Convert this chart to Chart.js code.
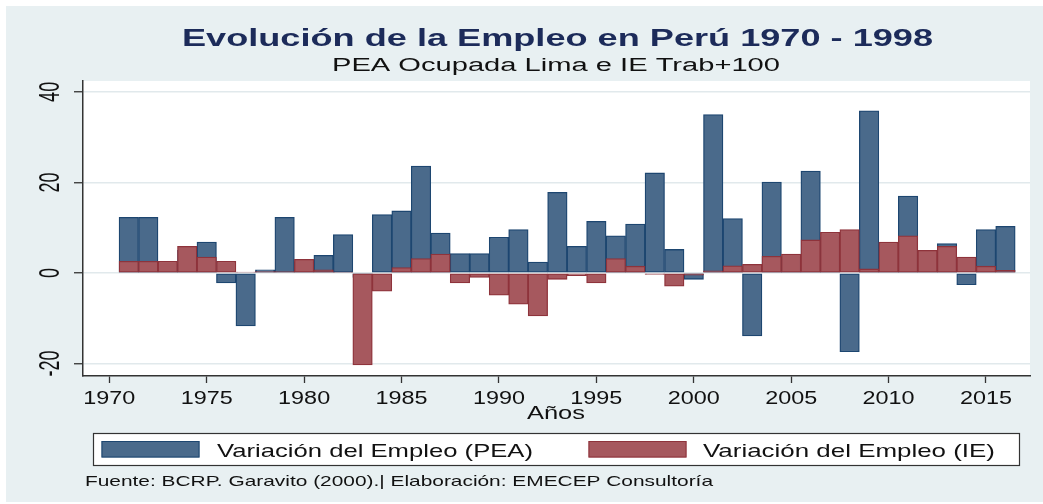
<!DOCTYPE html>
<html>
<head>
<meta charset="utf-8">
<script src="https://cdn.jsdelivr.net/npm/chart.js@4/dist/chart.umd.min.js"></script>
<style>
  html, body { margin: 0; padding: 0; background: #ffffff; }
  #wrap { width: 1043px; height: 504px; position: relative; }
  canvas { display: block; }
</style>
</head>
<body>
<div id="wrap"><canvas id="c" width="1043" height="504"></canvas></div>
<script>
// ---------- DATA ----------
const years = [1971,1972,1973,1974,1975,1976,1977,1978,1979,1980,
               1981,1982,1983,1984,1985,1986,1987,1988,1989,1990,
               1991,1992,1993,1994,1995,1996,1997,1998,1999,2000,
               2001,2002,2003,2004,2005,2006,2007,2008,2009,2010,
               2011,2012,2013,2014,2015,2016];
const peaValues = [12.3,12.3,2.0,5.0,6.8,-2.2,-11.7,0.7,12.3,2.5,
                   3.9,8.5,-1.0,12.9,13.7,23.6,8.8,4.3,4.3,7.9,
                   9.6,2.4,17.8,5.9,11.4,8.2,10.8,22.1,5.2,-1.4,
                   35.0,12.0,-13.9,20.1,3.5,22.5,8.0,-17.4,35.8,6.0,
                   17.0,4.5,6.5,-2.6,9.6,10.3];
const ieValues = [2.6,2.6,2.6,5.9,3.5,2.6,0.2,0.3,0.3,3.0,
                  0.7,0.2,-20.3,-4.0,1.2,3.2,4.2,-2.2,-1.0,-4.9,
                  -6.9,-9.5,-1.4,-0.6,-2.2,3.2,1.5,-0.3,-2.9,-0.5,
                  0.5,1.6,1.9,3.7,4.2,7.3,9.0,9.6,0.9,6.8,
                  8.2,5.0,5.9,3.5,1.5,0.6];
const xTickYears = [1970,1975,1980,1985,1990,1995,2000,2005,2010,2015];
const yTickValues = [-20,0,20,40];
const seriesLabels = ["Variación del Empleo (PEA)", "Variación del Empleo (IE)"];
const titleText = "Evolución de la Empleo en Perú 1970 - 1998";
const subtitleText = "PEA Ocupada Lima e IE Trab+100";
const xAxisTitle = "Años";
const footnoteText = "Fuente: BCRP. Garavito (2000).| Elaboración: EMECEP Consultoría";

// ---------- STYLE ----------
const BLUE_FILL = '#4a6a8b', BLUE_LINE = '#1d4670';
const RED_FILL = '#a6585e', RED_LINE = '#8e333b';
const BG = '#e8f0f2';
const FONT = '"Liberation Sans", Arial, Helvetica, sans-serif';

function drawText(ctx, s, x, y, o) {
  ctx.save();
  ctx.font = o.font;
  ctx.fillStyle = o.color || '#111';
  ctx.textBaseline = 'alphabetic';
  ctx.textAlign = o.align || 'center';
  const w = ctx.measureText(s).width;
  const sx = o.width ? o.width / w : (o.sx || 1);
  ctx.translate(x, y);
  ctx.scale(sx, 1);
  ctx.fillText(s, 0, 0);
  ctx.restore();
}

const decor = {
  id: 'decor',
  beforeDraw(chart) {
    const ctx = chart.ctx, a = chart.chartArea;
    ctx.save();
    ctx.fillStyle = '#ffffff';
    ctx.fillRect(0, 0, chart.width, chart.height);
    ctx.fillStyle = BG;
    ctx.fillRect(6, 6, chart.width - 6, chart.height - 8);
    ctx.fillStyle = '#ffffff';
    ctx.fillRect(a.left, a.top, a.right - a.left, a.bottom - a.top);
    ctx.restore();
  },
  afterDraw(chart) {
    const ctx = chart.ctx;
    const xs = chart.scales.x, ys = chart.scales.y;
    // titles
    drawText(ctx, titleText, 557.5, 46, {font: 'bold 24px ' + FONT, color: '#1c2b5a', width: 751});
    drawText(ctx, subtitleText, 556, 71, {font: '18px ' + FONT, color: '#111', width: 448});
    // x tick labels
    xs.ticks.forEach(t => {
      drawText(ctx, String(t.value), xs.getPixelForValue(t.value), 403.5, {font: '18px ' + FONT, color: '#111', sx: 1.3});
    });
    drawText(ctx, xAxisTitle, 556, 419, {font: '18px ' + FONT, color: '#111', width: 58});
    // y tick labels (vertical)
    ys.ticks.forEach(t => {
      const py = ys.getPixelForValue(t.value);
      ctx.save();
      ctx.font = '18px ' + FONT;
      ctx.fillStyle = '#111';
      ctx.textAlign = 'center';
      ctx.textBaseline = 'middle';
      ctx.translate(51, py);
      ctx.rotate(-Math.PI / 2);
      ctx.scale(1, 1.6);
      ctx.fillText(String(t.value), 0, 0);
      ctx.restore();
    });
    // legend
    ctx.save();
    ctx.fillStyle = '#ffffff';
    ctx.fillRect(93, 433, 926, 32);
    ctx.strokeStyle = '#333';
    ctx.lineWidth = 1.2;
    ctx.strokeRect(93.5, 433.5, 926, 32);
    const sw = [[101.5, BLUE_FILL, BLUE_LINE], [588.5, RED_FILL, RED_LINE]];
    sw.forEach(([x, f, l]) => {
      ctx.fillStyle = f; ctx.fillRect(x, 441, 98, 16.5);
      ctx.strokeStyle = l; ctx.lineWidth = 1; ctx.strokeRect(x + 0.5, 441.5, 97, 15.5);
    });
    ctx.restore();
    drawText(ctx, seriesLabels[0], 217, 456.5, {font: '19px ' + FONT, color: '#111', width: 316, align: 'left'});
    drawText(ctx, seriesLabels[1], 703, 456.5, {font: '19px ' + FONT, color: '#111', width: 292, align: 'left'});
    // footnote
    drawText(ctx, footnoteText, 85, 486, {font: '15px ' + FONT, color: '#111', width: 628, align: 'left'});
  }
};

const peaData = years.map((y, i) => ({x: y, y: peaValues[i]}));
const ieData = years.map((y, i) => ({x: y, y: ieValues[i]}));

new Chart(document.getElementById('c'), {
  type: 'bar',
  data: {
    datasets: [
      { label: seriesLabels[0], data: peaData, backgroundColor: BLUE_FILL, borderColor: BLUE_LINE,
        borderWidth: 1.3, borderSkipped: false, order: 2 },
      { label: seriesLabels[1], data: ieData, backgroundColor: RED_FILL, borderColor: RED_LINE,
        borderWidth: 1.3, borderSkipped: false, order: 1 }
    ]
  },
  options: {
    responsive: false,
    animation: false,
    devicePixelRatio: 1,
    layout: { padding: { left: 0, right: 13, top: 81, bottom: 0 } },
    datasets: { bar: { grouped: false, barPercentage: 1, categoryPercentage: 1 } },
    plugins: { legend: { display: false }, title: { display: false }, tooltip: { enabled: false } },
    scales: {
      x: {
        type: 'linear', min: 1968.65, max: 2017.26, offset: false,
        afterBuildTicks: s => { s.ticks = xTickYears.map(v => ({value: v})); },
        afterFit: s => { s.height = 128; },
        ticks: { display: false },
        grid: { offset: false, drawOnChartArea: false, drawTicks: true, tickLength: 7, tickColor: '#333', tickWidth: 1.3 },
        border: { display: true, color: '#333', width: 1.5 }
      },
      y: {
        type: 'linear', min: -22.75, max: 42.4,
        afterBuildTicks: s => { s.ticks = yTickValues.map(v => ({value: v})); },
        afterFit: s => { s.width = 83; },
        ticks: { display: false },
        grid: { color: '#e1e9ec', lineWidth: 1.5, drawTicks: true, tickLength: 9, tickColor: '#333', tickWidth: 1.3 },
        border: { display: true, color: '#333', width: 1.5 }
      }
    }
  },
  plugins: [decor]
});
</script>
</body>
</html>
